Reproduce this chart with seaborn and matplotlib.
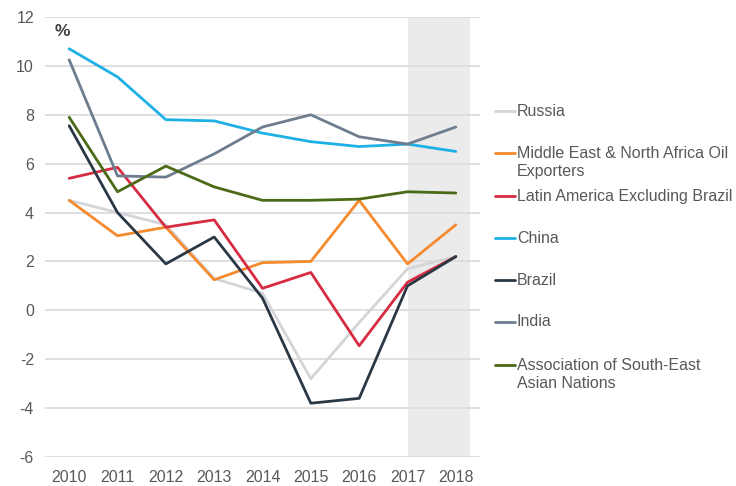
import matplotlib
matplotlib.use("Agg")
import matplotlib.pyplot as plt
from matplotlib.lines import Line2D
import seaborn as sns
import pandas as pd

years = [2010, 2011, 2012, 2013, 2014, 2015, 2016, 2017, 2018]

series_names = [
    "Russia",
    "Middle East & North Africa Oil\nExporters",
    "Latin America Excluding Brazil",
    "China",
    "Brazil",
    "India",
    "Association of South-East\nAsian Nations",
]

russia = [4.5, 4.0, 3.5, 1.3, 0.7, -2.8, -0.5, 1.7, 2.2]
mena = [4.5, 3.05, 3.4, 1.25, 1.95, 2.0, 4.5, 1.9, 3.5]
latam = [5.4, 5.85, 3.4, 3.7, 0.9, 1.55, -1.45, 1.15, 2.2]
china = [10.7, 9.55, 7.8, 7.75, 7.25, 6.9, 6.7, 6.8, 6.5]
brazil = [7.55, 4.0, 1.9, 3.0, 0.5, -3.8, -3.6, 1.0, 2.2]
india = [10.25, 5.5, 5.45, 6.4, 7.5, 8.0, 7.1, 6.8, 7.5]
asean = [7.9, 4.85, 5.9, 5.05, 4.5, 4.5, 4.55, 4.85, 4.8]

values = [russia, mena, latam, china, brazil, india, asean]
colors = ["#d3d5d8", "#f58a2e", "#d62b41", "#1eb1e6", "#2a3845", "#6d7d8e", "#4b6a17"]

y_ticks = [-6, -4, -2, 0, 2, 4, 6, 8, 10, 12]
forecast_start = 2017

rows = []
for name, vals in zip(series_names, values):
    for yr, v in zip(years, vals):
        rows.append({"year": yr, "value": v, "series": name})
df = pd.DataFrame(rows)

sns.set_theme(style="white")
plt.rcParams["font.family"] = ["Liberation Sans", "DejaVu Sans"]
plt.rcParams["axes.unicode_minus"] = False

fig = plt.figure(figsize=(7.36, 4.86), dpi=100)
ax = fig.add_axes([45 / 736, 1 - 457 / 486, 435 / 736, 440 / 486])

ax.axvspan(forecast_start, 2018.3, color="#ebebeb", zorder=0, lw=0)

sns.lineplot(data=df, x="year", y="value", hue="series", hue_order=series_names,
             palette=dict(zip(series_names, colors)), linewidth=2.0,
             legend=False, ax=ax, zorder=3)

ax.set_xlim(2009.5, 2018.5)
ax.set_ylim(-6, 12)
ax.set_yticks(y_ticks)
ax.set_xticks(years)
ax.set_xticklabels([str(y) for y in years])
ax.set_xlabel("")
ax.set_ylabel("")
ax.yaxis.grid(True, color="#dcdcdc", linewidth=1.3, zorder=1)
ax.xaxis.grid(False)
ax.set_axisbelow(True)
for s in ax.spines.values():
    s.set_visible(False)
ax.tick_params(axis="both", length=0, labelsize=11.5, labelcolor="#595959")
ax.tick_params(axis="x", pad=9)
ax.tick_params(axis="y", pad=8)

ax.text(0.041, 0.968, "%", transform=ax.transAxes, ha="center", va="center",
        fontsize=12.5, fontweight="bold", color="#404040")

# legend (manual, to match the reference's uneven spacing)
legend_y_px = [111, 153, 196, 238, 280, 322, 365]
for name, col, ypx in zip(series_names, colors, legend_y_px):
    yf = 1 - ypx / 486
    fig.add_artist(Line2D([495 / 736, 515 / 736], [yf, yf], color=col, lw=2.0,
                          transform=fig.transFigure))
    if "\n" in name:
        fig.text(517 / 736, yf + 7 / 486, name, ha="left", va="top",
                 fontsize=11.5, color="#595959", linespacing=1.25)
    else:
        fig.text(517 / 736, yf, name, ha="left", va="center",
                 fontsize=11.5, color="#595959")

fig.savefig("out.png", dpi=100)
